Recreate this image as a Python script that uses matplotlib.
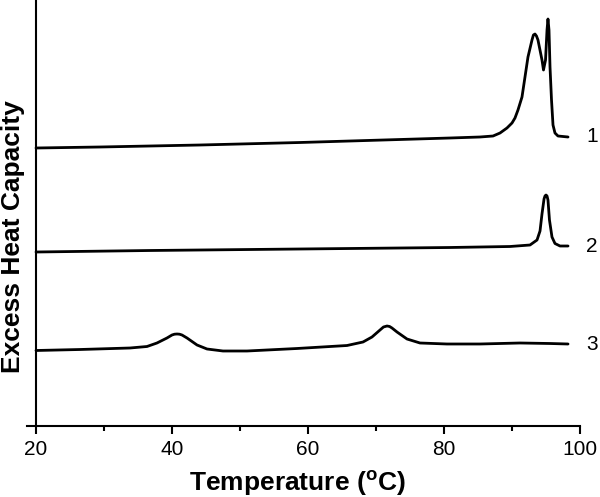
import matplotlib
matplotlib.use("Agg")
import matplotlib.pyplot as plt
from matplotlib.ticker import MultipleLocator

plt.rcParams['font.family'] = ['Liberation Sans', 'DejaVu Sans']
plt.rcParams['mathtext.fontset'] = 'custom'
plt.rcParams['mathtext.rm'] = 'Liberation Sans:bold'
plt.rcParams['mathtext.bf'] = 'Liberation Sans:bold'

# ---- data ----
t1 = [20.0, 29.41, 44.12, 58.82, 73.53, 80.88, 85.29, 87.21, 88.24, 89.26, 90.0,
      90.44, 90.88, 91.47, 91.91, 92.35, 92.94, 93.15, 93.38, 93.6, 93.82, 94.41, 94.63, 94.93,
      95.15, 95.29, 95.44, 95.59, 95.81, 96.03, 96.32, 96.76, 98.24]
cp1 = [2.78, 2.79, 2.81, 2.835, 2.865, 2.88, 2.89, 2.90, 2.93, 2.98, 3.03,
       3.08, 3.16, 3.29, 3.49, 3.69, 3.86, 3.91, 3.92, 3.90, 3.86, 3.66, 3.56, 3.66,
       3.96, 4.07, 3.96, 3.59, 3.26, 3.01, 2.93, 2.90, 2.89]

t2 = [20.0, 36.76, 58.82, 80.88, 89.71, 92.65, 93.68, 94.12, 94.41, 94.71, 94.85, 95.0,
      95.15, 95.29, 95.51, 95.88, 96.32, 97.06, 98.24]
cp2 = [1.74, 1.755, 1.77, 1.785, 1.795, 1.81, 1.86, 1.95, 2.12, 2.27, 2.30, 2.31,
       2.30, 2.26, 2.06, 1.89, 1.825, 1.80, 1.80]

t3 = [20.0, 26.47, 33.82, 36.32, 37.79, 39.26, 40.0, 40.37, 40.74, 41.1, 41.47, 42.21, 43.68,
      45.15, 47.5, 51.03, 58.38, 65.74, 68.09, 69.41, 70.59, 71.1, 71.62, 72.0, 72.35, 73.09,
      74.56, 76.47, 80.44, 85.29, 91.18, 95.59, 98.24]
cp3 = [0.755, 0.765, 0.78, 0.795, 0.83, 0.88, 0.91, 0.918, 0.92, 0.918, 0.91, 0.88, 0.81,
       0.77, 0.75, 0.75, 0.775, 0.805, 0.84, 0.89, 0.96, 0.99, 1.00, 0.995, 0.98, 0.94,
       0.87, 0.83, 0.82, 0.82, 0.83, 0.825, 0.82]

series = [(t1, cp1, "1"), (t2, cp2, "2"), (t3, cp3, "3")]
x_ticks = [20, 40, 60, 80, 100]

fig = plt.figure(figsize=(6.0, 4.97), dpi=100)
ax = fig.add_axes([27/600, 71/497, 553/600, 426/497])

for t, cp, lab in series:
    ax.plot(t, cp, color='black', lw=2.0, solid_joinstyle='round', solid_capstyle='round')
    ax.annotate(lab, xy=(t[-1], cp[-1]), xytext=(17.3, 0), textcoords='offset points',
                ha='center', va='center', fontsize=15, annotation_clip=False)

ax.set_xlim(20 - 9/6.8, 100)
ax.set_ylim(0, 4.26)
ax.spines['top'].set_visible(False)
ax.spines['right'].set_visible(False)
ax.spines['left'].set_position(('data', 20))
for s in ('left', 'bottom'):
    ax.spines[s].set_linewidth(1.5)
ax.set_yticks([])
ax.set_xticks(x_ticks)
ax.set_xticklabels([str(v) for v in x_ticks])
ax.xaxis.set_minor_locator(MultipleLocator(10))
ax.tick_params(axis='x', which='major', direction='out', length=6, width=1.5,
               labelsize=15, pad=4)
ax.tick_params(axis='x', which='minor', direction='out', length=3.5, width=1.5)

fig.text(297/600, 1 - 483/497, r'Temperature ($\mathregular{^o}$C)', ha='center',
         va='center', fontsize=19, fontweight='bold')
fig.text(13.5/600, 1 - 237/497, 'Excess Heat Capacity', rotation=90, ha='center',
         va='center', fontsize=19, fontweight='bold')

fig.savefig('out.png', dpi=100)
